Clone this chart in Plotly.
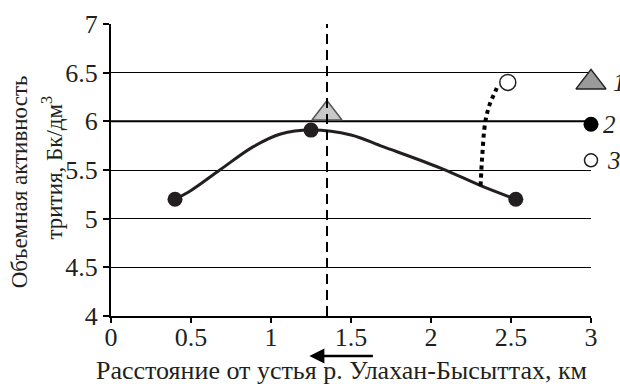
import plotly.graph_objects as go

# ---- data ----
pts_x = [0.4, 1.25, 2.53]          # measured points (filled circles)
pts_y = [5.2, 5.91, 5.2]

curve_x = [0.4, 0.5, 0.68, 0.89, 1.06, 1.25, 1.5, 1.7, 2.06, 2.31, 2.53]
curve_y = [5.2, 5.29, 5.5, 5.74, 5.87, 5.91, 5.86, 5.74, 5.52, 5.34, 5.2]

tri_x = [1.35]                     # triangle marker (series 1)
tri_y = [6.08]

open_x = [2.48]                    # open circle (series 3)
open_y = [6.4]

dot_x = [2.31, 2.32, 2.34, 2.37, 2.40, 2.42]   # dotted connector
dot_y = [5.34, 5.64, 6.0, 6.19, 6.30, 6.38]

vline_x = 1.35                     # dashed vertical line
legend_labels = ["1", "2", "3"]
legend_y = [6.4, 5.97, 5.6]
legend_x = 3.0

x_ticks = [0, 0.5, 1, 1.5, 2, 2.5, 3]
x_ticktext = ["0", "0.5", "1", "1.5", "2", "2.5", "3"]
y_ticks = [4, 4.5, 5, 5.5, 6, 6.5, 7]
y_ticktext = ["4", "4.5", "5", "5.5", "6", "6.5", "7"]

x_title = "Расстояние от устья р. Улахан-Бысыттах, км"
y_title_lines = ["Объемная активность", "трития, Бк/дм<sup>3</sup>"]

FONT = "Liberation Serif"
INK = "#231f20"

fig = go.Figure()

# dashed vertical line
fig.add_shape(type="line", x0=vline_x, x1=vline_x, y0=4, y1=7,
              xref="x", yref="y", line=dict(color="black", width=2, dash="10px,6px"))
# thicker gridline at 6
fig.add_shape(type="line", x0=0, x1=3, y0=6, y1=6, xref="x", yref="y",
              line=dict(color="black", width=2), layer="below")

fig.add_trace(go.Scatter(x=curve_x, y=curve_y, mode="lines",
                         line=dict(color=INK, width=3, shape="spline", smoothing=1.0),
                         hoverinfo="skip"))
fig.add_trace(go.Scatter(x=dot_x, y=dot_y, mode="lines",
                         line=dict(color="black", width=4, shape="spline", dash="dot"),
                         hoverinfo="skip"))
fig.add_trace(go.Scatter(x=pts_x, y=pts_y, mode="markers",
                         marker=dict(color=INK, size=15, line=dict(width=0))))
fig.add_trace(go.Scatter(x=tri_x, y=tri_y, mode="markers",
                         marker=dict(symbol="triangle-up", size=26, color="#c8c8c8",
                                     line=dict(color="#555555", width=1.5))))
fig.add_trace(go.Scatter(x=open_x, y=open_y, mode="markers",
                         marker=dict(symbol="circle", size=16, color="white",
                                     line=dict(color=INK, width=1.5))))

# legend symbols (drawn at right edge)
fig.add_trace(go.Scatter(x=[legend_x], y=[legend_y[0]], mode="markers", cliponaxis=False,
                         marker=dict(symbol="triangle-up", size=26, color="#9a9a9a",
                                     line=dict(color=INK, width=1.5))))
fig.add_trace(go.Scatter(x=[legend_x], y=[legend_y[1]], mode="markers", cliponaxis=False,
                         marker=dict(symbol="circle", size=15, color="black")))
fig.add_trace(go.Scatter(x=[legend_x], y=[legend_y[2]], mode="markers", cliponaxis=False,
                         marker=dict(symbol="circle", size=13, color="white",
                                     line=dict(color=INK, width=1.5))))

for lab, yy, shift in zip(legend_labels, legend_y, [20, 10, 14]):
    fig.add_annotation(x=legend_x, y=yy, xref="x", yref="y", text=lab, showarrow=False,
                       xanchor="left", xshift=shift,
                       font=dict(family=FONT, size=25, color=INK, style="italic"))

# arrow below the axis
fig.add_annotation(x=1.24, y=-0.137, xref="x", yref="paper", ax=65, ay=0,
                   text="", showarrow=True, arrowhead=2, arrowsize=1.2,
                   arrowwidth=2.5, arrowcolor="black")

# axis titles
fig.add_annotation(x=0.481, y=-0.187, xref="paper", yref="paper", text=x_title,
                   showarrow=False, xanchor="center", yanchor="middle",
                   font=dict(family=FONT, size=26, color=INK))
for txt, xp, yp in zip(y_title_lines, [-0.189, -0.122], [0.459, 0.51]):
    fig.add_annotation(x=xp, y=yp, xref="paper", yref="paper", text=txt,
                       showarrow=False, xanchor="center", yanchor="middle", textangle=-90,
                       font=dict(family=FONT, size=23, color=INK))

fig.update_layout(
    width=620, height=384,
    margin=dict(l=111, r=29, t=24, b=68),
    paper_bgcolor="white", plot_bgcolor="white",
    showlegend=False,
    font=dict(family=FONT, size=26, color=INK),
    xaxis=dict(range=[0, 3], tickvals=x_ticks, ticktext=x_ticktext, automargin=False,
               showgrid=False, zeroline=False, showline=True, linecolor="black",
               linewidth=2, ticks="outside", ticklen=5, tickwidth=2, tickcolor="black",
               ticklabelstandoff=-8),
    yaxis=dict(range=[4, 7], tickvals=y_ticks, ticktext=y_ticktext, automargin=False,
               showgrid=True, gridcolor="black", gridwidth=1, zeroline=False,
               showline=True, linecolor="black", linewidth=2,
               ticks="outside", ticklen=6, tickwidth=2, tickcolor="black"),
)

fig.write_html("out.html")
